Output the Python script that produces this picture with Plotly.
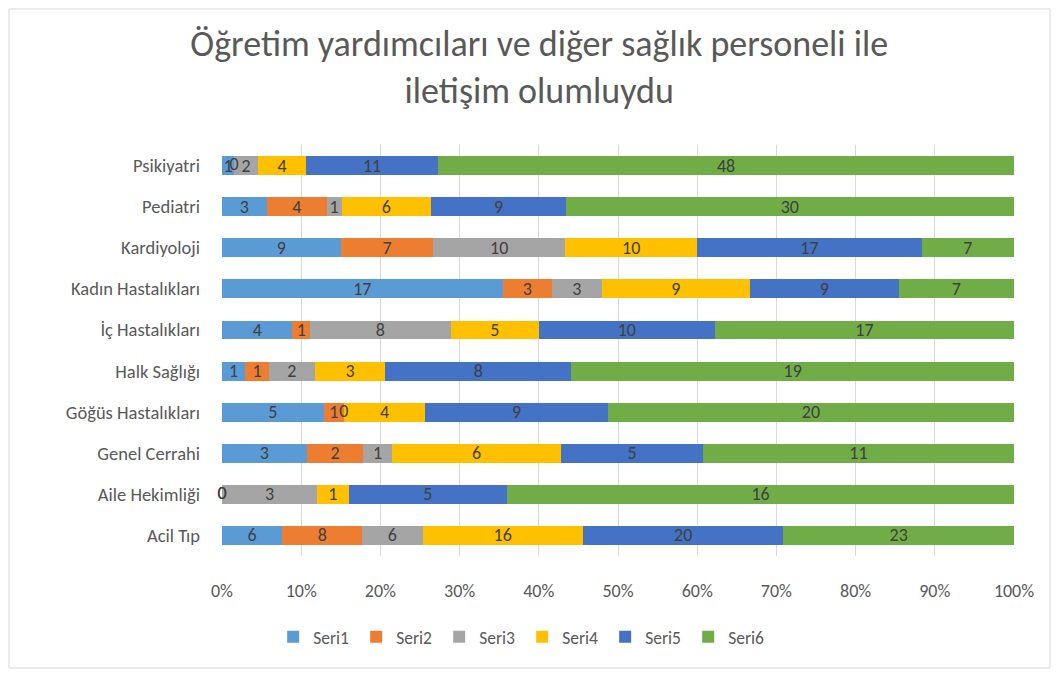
import plotly.graph_objects as go

categories = ["Acil Tıp", "Aile Hekimliği", "Genel Cerrahi", "Göğüs Hastalıkları",
              "Halk Sağlığı", "İç Hastalıkları", "Kadın Hastalıkları", "Kardiyoloji",
              "Pediatri", "Psikiyatri"]
seri1 = [6, 0, 3, 5, 1, 4, 17, 9, 3, 1]
seri2 = [8, 0, 2, 1, 1, 1, 3, 7, 4, 0]
seri3 = [6, 3, 1, 0, 2, 8, 3, 10, 1, 2]
seri4 = [16, 1, 6, 4, 3, 5, 9, 10, 6, 4]
seri5 = [20, 5, 5, 9, 8, 10, 9, 17, 9, 11]
seri6 = [23, 16, 11, 20, 19, 17, 7, 7, 30, 48]
series_names = ["Seri1", "Seri2", "Seri3", "Seri4", "Seri5", "Seri6"]
series_values = [seri1, seri2, seri3, seri4, seri5, seri6]
colors = ["#5B9BD5", "#ED7D31", "#A5A5A5", "#FFC000", "#4472C4", "#70AD47"]
x_ticks = [0, 10, 20, 30, 40, 50, 60, 70, 80, 90, 100]

FONT = "Calibri, Carlito, Lato, 'Liberation Sans', sans-serif"
LABEL_FONT = dict(family=FONT, size=18, color="#404040")

fig = go.Figure()
for name, vals, col in zip(series_names, series_values, colors):
    fig.add_trace(go.Bar(
        y=categories, x=vals, name=name, orientation="h",
        marker=dict(color=col, line=dict(width=0)),
        text=[str(v) for v in vals], textposition="inside", textangle=0,
        insidetextanchor="middle", constraintext="none",
        textfont=LABEL_FONT, cliponaxis=False,
    ))

# labels for zero-valued segments (Plotly does not label zero-width bars)
totals = [sum(s[i] for s in series_values) for i in range(len(categories))]
zx, zy = [], []
for i, cat in enumerate(categories):
    cum = 0
    for s in series_values:
        if s[i] == 0:
            zx.append(100.0 * cum / totals[i])
            zy.append(cat)
        cum += s[i]
fig.add_trace(go.Scatter(x=zx, y=zy, mode="text", text=["0"] * len(zx),
                         textposition="middle center", textfont=LABEL_FONT,
                         showlegend=False, hoverinfo="skip", cliponaxis=False))

fig.update_layout(
    barmode="stack", barnorm="percent", bargap=0.54,
    width=1052, height=671,
    paper_bgcolor="white", plot_bgcolor="white",
    margin=dict(l=214, r=46, t=137, b=123),
    font=dict(family=FONT, color="#595959"),
    title=dict(text="Öğretim yardımcıları ve diğer sağlık personeli ile<br>iletişim olumluydu",
               x=0.505, xanchor="center", xref="container",
               y=0.928, yanchor="middle",
               font=dict(family=FONT, size=36, color="#595959")),
    legend=dict(orientation="h", x=0.379, xanchor="center", y=-0.197, yanchor="middle",
                font=dict(family=FONT, size=17.5, color="#595959"), traceorder="normal",
                entrywidth=38, entrywidthmode="pixels"),
    showlegend=True,
)
fig.update_xaxes(range=[0, 100.0001], tickvals=x_ticks, ticktext=[f"{v}%" for v in x_ticks],
                 showgrid=True, gridcolor="#D9D9D9", gridwidth=1,
                 zeroline=False, showline=False, automargin=False,
                 tickfont=dict(family=FONT, size=18, color="#595959"),
                 ticklabelstandoff=22)
fig.update_yaxes(showgrid=False, zeroline=False, showline=False, automargin=False,
                 tickfont=dict(family=FONT, size=18.5, color="#595959"),
                 ticklabelstandoff=21)
fig.add_shape(type="rect", xref="paper", yref="paper",
              x0=-0.269, x1=1.0455, y0=-0.2725, y1=1.331,
              line=dict(color="#D9D9D9", width=1), fillcolor="rgba(0,0,0,0)")

fig.write_html("out.html")
